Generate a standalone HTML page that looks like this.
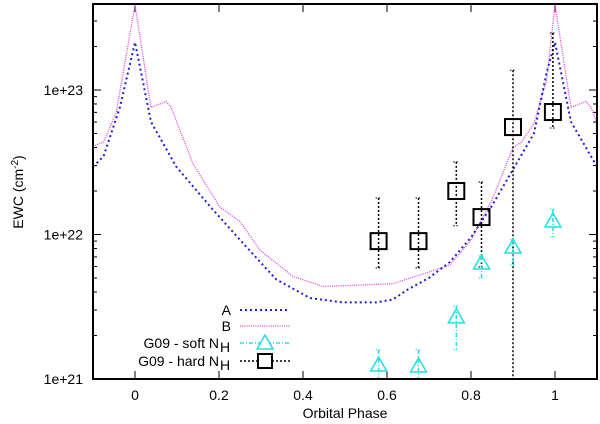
<!DOCTYPE html>
<html><head><meta charset="utf-8"><style>
body{margin:0;background:#fff}
svg{font-family:"Liberation Sans",sans-serif;display:block}
</style></head><body>
<svg id="c" width="600" height="424"></svg>
<script>
const phaseA=[-0.1,-0.075,-0.036,0,0.038,0.098,0.18,0.257,0.336,0.417,0.495,0.574,0.614,0.65,0.7,0.75,0.8,0.85,0.9,0.95,0.98,1.0,1.038,1.1];
const logA=[22.47,22.54,22.88,23.33,22.78,22.47,22.19,21.94,21.69,21.56,21.53,21.53,21.55,21.62,21.70,21.81,21.98,22.20,22.45,22.70,23.12,23.33,22.78,22.47];
const phaseB=[-0.1,-0.075,-0.045,0,0.038,0.074,0.086,0.138,0.202,0.25,0.298,0.376,0.448,0.536,0.614,0.7,0.75,0.8,0.85,0.9,0.92,0.95,0.98,1.0,1.038,1.074,1.086,1.1];
const logB=[22.61,22.64,22.84,23.59,22.88,22.92,22.88,22.49,22.19,22.09,21.89,21.71,21.64,21.65,21.66,21.74,21.79,21.96,22.24,22.60,22.64,22.77,23.07,23.59,22.88,22.92,22.88,22.77];
const obsPhase=[0.58,0.675,0.765,0.825,0.9,0.995];
const hard=[9.0e21,9.0e21,2.0e22,1.32e22,5.54e22,7.04e22];
const hardHi=[1.79e22,1.79e22,3.18e22,2.31e22,1.37e23,2.48e23];
const hardLo=[5.87e21,5.87e21,1.15e22,5.96e21,1e21,5.46e22];
const soft=[1.25e21,1.23e21,2.69e21,6.35e21,8.2e21,1.24e22];
const softHi=[1.59e21,1.59e21,3.2e21,7.1e21,9.2e21,1.5e22];
const softLo=[1e21,1e21,1.59e21,5.0e21,6.15e21,9.6e21];
const xTicks=[0,0.2,0.4,0.6,0.8,1];
const yTicks=[21,22,23];
const yLabels=["1e+21","1e+22","1e+23"];

const L=93,R=597,T=4,B=379;
const X=v=>L+(v+0.1)/1.2*(R-L);
const YL=l=>B-(l-21)*144.5;
const Y=v=>YL(Math.log10(v));
const s=document.getElementById('c');const NS="http://www.w3.org/2000/svg";
function mk(t,a,p){const e=document.createElementNS(NS,t);for(const k in a)e.setAttribute(k,a[k]);(p||s).appendChild(e);return e;}
const g=mk('g',{stroke:'#000','stroke-width':1});


xTicks.forEach(v=>{const x=X(v);mk('line',{x1:x,x2:x,y1:B,y2:B-8},g);mk('line',{x1:x,x2:x,y1:T,y2:T+8},g);
 const t=mk('text',{x:x,y:B+21,'text-anchor':'middle','font-size':14,stroke:'none'});t.textContent=String(v);
 
 });
yTicks.forEach((l,i)=>{for(let m=1;m<10;m++){const lv=l+Math.log10(m);const y=YL(lv);if(y<T)break;const w=m==1?8:4;
 mk('line',{x1:L,x2:L+w,y1:y,y2:y},g);mk('line',{x1:R,x2:R-w,y1:y,y2:y},g);}
 const t=mk('text',{x:83,y:YL(l)+5,'text-anchor':'end','font-size':14,stroke:'none'});t.textContent=yLabels[i];
 
 });
function line(px,py,col,dash,w,name){const d=px.map((p,i)=>(i?'L':'M')+X(p)+','+YL(py[i])).join('');
 const e=mk('path',{d:d,fill:'none',stroke:col,'stroke-width':w,'stroke-dasharray':dash});
 
 }
line(phaseB,logB,'#e040e0','1,1.2',1.3,'curve-b');
line(phaseA,logA,'#2020d0','2,3',2,'curve-a');
function pts(vals,hi,lo,col,sq,name){vals.forEach((v,i)=>{const x=X(obsPhase[i]);
 const gg=mk('g',{});
 
 
 mk('line',{x1:x,x2:x,y1:Y(hi[i]),y2:Y(lo[i]),stroke:col,'stroke-width':1.5,'stroke-dasharray':sq?'2,2':'4,2,1,2'},gg);
 [hi[i],lo[i]].forEach(e=>mk('line',{x1:x-3,x2:x+3,y1:Y(e),y2:Y(e),stroke:col,'stroke-width':1,'stroke-dasharray':'1.5,1.5'},gg));
 const y=Y(v);
 if(sq)mk('rect',{x:x-8,y:y-8,width:16,height:16,fill:'none',stroke:col,'stroke-width':2},gg);
 else mk('path',{d:`M${x},${y-8}L${x+8},${y+6}L${x-8},${y+6}Z`,fill:'none',stroke:col,'stroke-width':1.5},gg);});}
pts(hard,hardHi,hardLo,'#000',true,'hard-nh-point');
pts(soft,softHi,softLo,'#20e0e0',false,'soft-nh-point');
const f=mk('rect',{x:L,y:T,width:R-L,height:B-T,fill:'none',stroke:'#000','stroke-width':2});


const lg=mk('g',{'font-size':14});


const ent=[['A',310],['B',326],['G09 - soft N',343],['G09 - hard N',361]];
ent.forEach((e,i)=>{const t=mk('text',{x:i<2?231:219,y:e[1]+5,'text-anchor':'end'},lg);t.textContent=e[0];
 
 
 if(i>=2){const h=mk('text',{x:220,y:e[1]+9},lg);h.textContent='H';}
 const y=e[1];
 if(i==0)mk('line',{x1:240,x2:290,y1:y,y2:y,stroke:'#2020d0','stroke-width':2,'stroke-dasharray':'2,3'},lg);
 if(i==1)mk('line',{x1:240,x2:290,y1:y,y2:y,stroke:'#e040e0','stroke-width':1.3,'stroke-dasharray':'1,1.2'},lg);
 if(i==2){mk('line',{x1:240,x2:290,y1:y,y2:y,stroke:'#20e0e0','stroke-width':1.5,'stroke-dasharray':'4,2,1,2'},lg);
  mk('path',{d:`M265,${y-8}L273,${y+6}L257,${y+6}Z`,fill:'#fff',stroke:'#20e0e0','stroke-width':1.5},lg);}
 if(i==3){mk('line',{x1:240,x2:290,y1:y,y2:y,stroke:'#000','stroke-width':1.5,'stroke-dasharray':'2,2'},lg);
  mk('rect',{x:258,y:y-7,width:14,height:14,fill:'#fff',stroke:'#000','stroke-width':2},lg);}
});
const xl=mk('text',{x:345,y:418,'text-anchor':'middle','font-size':14});xl.textContent='Orbital Phase';


const yl=mk('text',{transform:'translate(23,192) rotate(-90)','text-anchor':'middle','font-size':14});


yl.innerHTML='EWC (cm<tspan dy="-5" font-size="10">-2</tspan><tspan dy="5">)</tspan>';
</script>
</body></html>
